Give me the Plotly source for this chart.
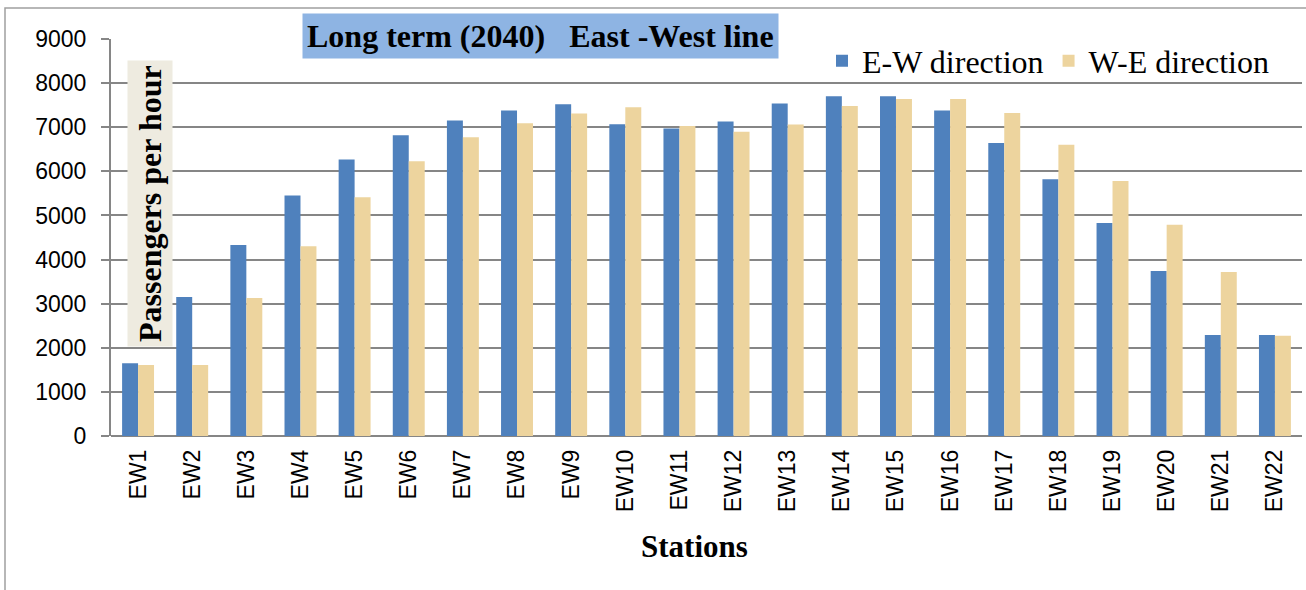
import plotly.graph_objects as go

stations = [f"EW{i}" for i in range(1, 23)]
ew_direction = [1650, 3150, 4330, 5450, 6270, 6820, 7150, 7380, 7520, 7070, 6970,
                7130, 7540, 7700, 7700, 7380, 6640, 5820, 4830, 3740, 2290, 2290]
we_direction = [1610, 1610, 3130, 4300, 5410, 6230, 6770, 7090, 7310, 7450, 7030,
                6900, 7060, 7480, 7640, 7640, 7320, 6600, 5780, 4790, 3720, 2270]
y_ticks = [0, 1000, 2000, 3000, 4000, 5000, 6000, 7000, 8000, 9000]

W, H = 1306, 590
L, R, T, B = 111, 4, 39, 154
pw, ph = W - L - R, H - T - B

def px(x):
    return (x - L) / pw

def py(y):
    return (H - B - y) / ph

fig = go.Figure()
fig.add_trace(go.Bar(x=stations, y=ew_direction, name="E-W direction",
                     marker=dict(color="#4F81BD", line=dict(width=0))))
fig.add_trace(go.Bar(x=stations, y=we_direction, name="W-E direction",
                     marker=dict(color="#EDD49E", line=dict(width=0))))

serif = "Liberation Serif, Times New Roman, serif"
sans = "Liberation Sans, Arial, sans-serif"

fig.update_layout(
    width=W, height=H,
    margin=dict(l=L, r=R, t=T, b=B),
    paper_bgcolor="white", plot_bgcolor="white",
    barmode="group", bargap=0.41, bargroupgap=0,
    showlegend=True,
    legend=dict(orientation="h", x=px(1274), xanchor="right", y=py(61), yanchor="middle",
                font=dict(family=serif, size=32, color="black"),
                bgcolor="rgba(0,0,0,0)", itemwidth=30, traceorder="normal"),
    xaxis=dict(tickangle=-90, tickfont=dict(family=sans, size=23, color="black"),
               showline=False, ticks="", showgrid=False, ticklabelstandoff=8),
    yaxis=dict(range=[0, 9000], tickvals=y_ticks, showgrid=True, gridcolor="#868686",
               gridwidth=2, tickfont=dict(family=sans, size=23, color="black"),
               ticks="outside", ticklen=8, tickcolor="#868686", tickwidth=2,
               showline=True, linecolor="#868686", linewidth=2,
               zeroline=True, zerolinecolor="#868686", zerolinewidth=2,
               ticklabelstandoff=10),
    shapes=[dict(type="rect", xref="paper", yref="paper",
                 x0=px(5), x1=px(1320), y0=py(620), y1=py(8),
                 line=dict(color="#A0A0A0", width=1.5), layer="below")],
    annotations=[
        dict(text="<b>Long term (2040)\u00a0\u00a0\u00a0East -West line</b>",
             xref="paper", yref="paper", x=px(540), y=py(36),
             xanchor="center", yanchor="middle", showarrow=False,
             font=dict(family=serif, size=32, color="black"),
             bgcolor="#8EB4E3", borderpad=4),
        dict(text="<b>Passengers per hour</b>", textangle=-90,
             xref="paper", yref="paper", x=px(150), y=py(204),
             xanchor="center", yanchor="middle", showarrow=False,
             font=dict(family=serif, size=32, color="black"),
             bgcolor="#EEEBE0", borderpad=4),
        dict(text="<b>Stations</b>", xref="paper", yref="paper",
             x=px(694), y=py(546), xanchor="center", yanchor="middle",
             showarrow=False, font=dict(family=serif, size=31, color="black")),
    ],
)

fig.write_html("out.html")
